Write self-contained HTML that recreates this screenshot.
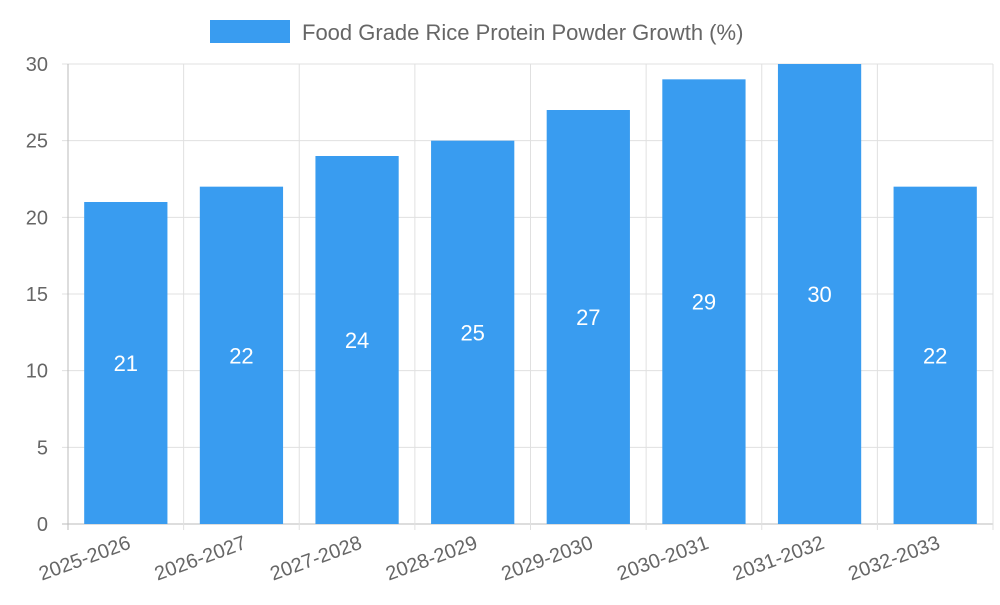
<!DOCTYPE html>
<html><head><meta charset="utf-8"><style>
body{margin:0;background:#fff;font-family:"Liberation Sans",sans-serif}
</style></head><body>
<svg width="1000" height="600" xmlns="http://www.w3.org/2000/svg">
<g>
<rect x="210" y="20" width="80" height="23" fill="#399CF0"/>
<text x="302" y="40" font-size="22" fill="#666" font-family="Liberation Sans, sans-serif">Food Grade Rice Protein Powder Growth (%)</text>
</g>
<g id="grid"></g>
<g id="bars"></g>
<g id="labels"></g>
</svg>
<script>
const categories=["2025-2026","2026-2027","2027-2028","2028-2029","2029-2030","2030-2031","2031-2032","2032-2033"];
const values=[21,22,24,25,27,29,30,22];
const yTicks=[0,5,10,15,20,25,30];
const L=68,R=993,T=64,B=524,yMax=30;
const ns="http://www.w3.org/2000/svg";
const bw=(R-L)/categories.length;
const y=v=>B-(v/yMax)*(B-T);
const x=i=>L+i*bw;
function mk(tag,attrs,parent){const e=document.createElementNS(ns,tag);for(const k in attrs)e.setAttribute(k,attrs[k]);document.getElementById(parent).appendChild(e);return e;}
yTicks.forEach(t=>{
 const l=mk('line',{x1:L-6,x2:R,y1:y(t),y2:y(t),stroke:t===0?'#bbb':'#e0e0e0','stroke-width':1},'grid');
 
 
 const tx=mk('text',{x:48,y:y(t)+7,'text-anchor':'end','font-size':20,fill:'#666'},'labels');
 tx.textContent=t;
 
 
});
for(let i=0;i<=categories.length;i++){
 const l=mk('line',{x1:x(i),x2:x(i),y1:T,y2:B+6,stroke:i===0?'#bbb':'#e0e0e0','stroke-width':1},'grid');
 
 
}
categories.forEach((c,i)=>{
 const cx=x(i)+bw/2,w=bw*0.72;
 const r=mk('rect',{x:cx-w/2,y:y(values[i]),width:w,height:B-y(values[i]),fill:'#399CF0'},'bars');
 
 
 const v=mk('text',{x:cx,y:(y(values[i])+B)/2+8,'text-anchor':'middle','font-size':22,fill:'#fff'},'labels');
 v.textContent=values[i];
 
 
 const t=mk('text',{x:cx+6,y:548,'text-anchor':'end','font-size':20,fill:'#666',transform:`rotate(-20 ${cx+6} 548)`},'labels');
 t.textContent=c;
 
 
});
</script>
</body></html>
